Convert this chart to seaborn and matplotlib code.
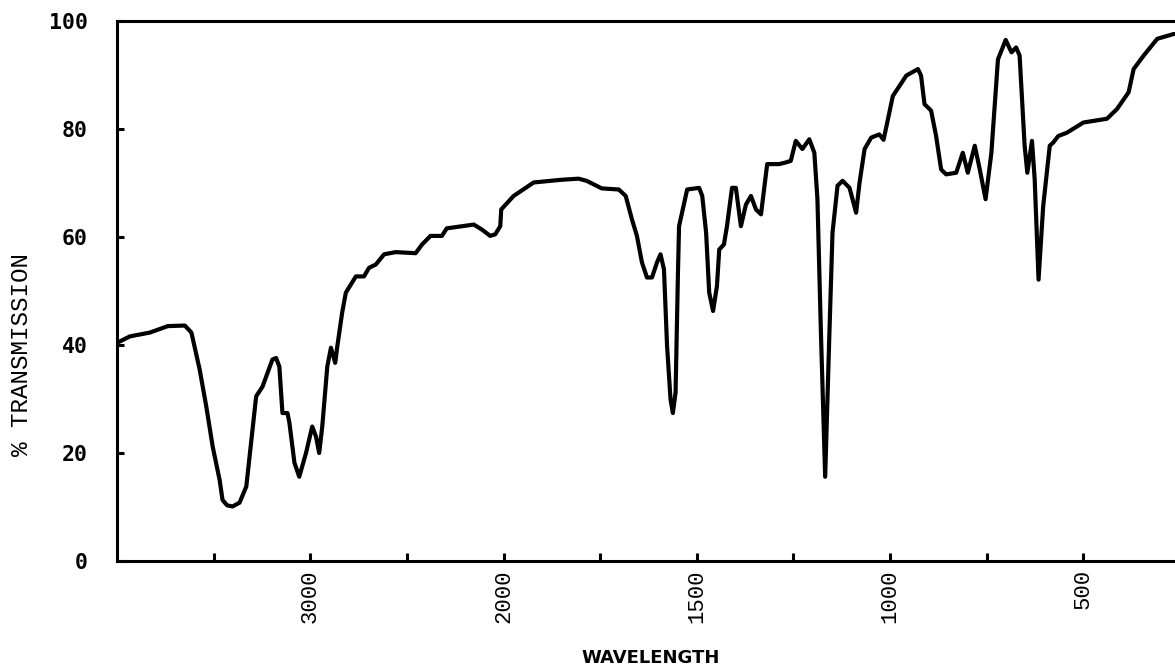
import numpy as np
import pandas as pd
import matplotlib
matplotlib.use("Agg")
import matplotlib.pyplot as plt
import seaborn as sns

# ---- data (wavenumber, % transmission) ----
wavenumber = [
    4000, 3933, 3830, 3737, 3649, 3615, 3572, 3538, 3505, 3469, 3454, 3430, 3402, 3366,
    3331, 3300, 3280, 3247, 3196, 3177, 3160, 3144, 3118, 3108, 3082, 3057, 3022,
    2990, 2970, 2954, 2938, 2912, 2893, 2871, 2860, 2835, 2816, 2764, 2722, 2696,
    2661, 2618, 2558, 2455, 2422, 2378, 2319, 2294, 2216, 2154, 2113, 2069, 2043,
    2017, 2012, 1974, 1922, 1850, 1806, 1785, 1746, 1702, 1684, 1668, 1655, 1642,
    1629, 1616, 1603, 1594, 1585, 1577, 1568, 1562, 1555, 1549, 1546, 1538, 1525,
    1494, 1486, 1476, 1468, 1458, 1448, 1442, 1430, 1422, 1409, 1399, 1386, 1373,
    1360, 1347, 1334, 1318, 1287, 1270, 1257, 1244, 1227, 1209, 1196, 1188, 1179,
    1168, 1157, 1149, 1136, 1123, 1105, 1088, 1079, 1066, 1049, 1028, 1017, 1008,
    993, 958, 928, 920, 911, 894, 881, 868, 855, 829, 812, 799, 781, 768, 753,
    738, 721, 701, 686, 674, 665, 652, 645, 633, 626, 616, 604, 587, 578, 565,
    543, 500, 439, 413, 383, 370, 344, 309, 266,
]
transmission = [
    40.4, 41.6, 42.3, 43.5, 43.6, 42.3, 35.4, 28.6, 21.2, 15.0, 11.3, 10.3, 10.1, 10.8,
    13.8, 24.0, 30.5, 32.3, 37.3, 37.6, 36.0, 27.4, 27.4, 25.6, 18.2, 15.6, 20.0,
    24.9, 23.0, 20.0, 24.9, 36.0, 39.5, 36.7, 39.8, 46.0, 49.7, 52.7, 52.7, 54.3,
    54.9, 56.8, 57.2, 57.0, 58.6, 60.2, 60.2, 61.6, 62.0, 62.3, 61.4, 60.2, 60.5,
    62.0, 65.1, 67.6, 70.1, 70.6, 70.8, 70.4, 69.0, 68.8, 67.6, 63.3, 60.2, 55.3,
    52.5, 52.5, 55.3, 56.8, 54.0, 39.8, 29.9, 27.4, 31.2, 52.8, 62.0, 64.6, 68.8,
    69.1, 67.6, 60.8, 49.7, 46.3, 50.9, 57.7, 58.6, 62.0, 69.1, 69.1, 62.0, 66.0,
    67.6, 65.1, 64.2, 73.5, 73.5, 73.8, 74.1, 77.8, 76.3, 78.1, 75.6, 67.0, 42.3,
    15.6, 42.3, 60.8, 69.5, 70.4, 69.1, 64.5, 70.1, 76.3, 78.4, 79.0, 78.0, 81.0,
    86.1, 89.9, 91.1, 89.9, 84.6, 83.4, 78.7, 72.5, 71.6, 71.9, 75.6, 71.9, 76.9,
    72.5, 67.0, 75.6, 92.9, 96.5, 94.2, 95.1, 93.6, 76.9, 71.9, 77.8, 70.7, 52.1,
    65.7, 76.9, 77.5, 78.7, 79.3, 81.2, 81.9, 83.7, 86.8, 91.1, 93.6, 96.7, 97.6,
]

x_ticks = [3500, 3000, 2500, 2000, 1750, 1500, 1250, 1000, 750, 500]
x_tick_labels = ["", "3000", "", "2000", "", "1500", "", "1000", "", "500"]
y_ticks = [0, 20, 40, 60, 80, 100]
y_tick_labels = ["0", "20", "40", "60", "80", "100"]

df = pd.DataFrame({"wavenumber": wavenumber, "transmission": transmission})

sns.set_theme(style="ticks")
plt.rcParams["font.family"] = ["DejaVu Sans"]


# spectrometer chart: scale changes at 2000 cm-1 (twice as expanded below 2000)
def fwd(w):
    w = np.asarray(w, dtype=float)
    return np.where(w >= 2000, w / 500.0, w / 250.0 - 4.0)


def inv(p):
    p = np.asarray(p, dtype=float)
    return np.where(p >= 4, p * 500.0, (p + 4.0) * 250.0)


fig = plt.figure(figsize=(11.75, 6.71), dpi=100)
ax = fig.add_axes([117 / 1175, 1 - 561 / 671, 1 - 117 / 1175, (561 - 21) / 671])
ax.set_xscale("function", functions=(fwd, inv))

sns.lineplot(data=df, x="wavenumber", y="transmission", sort=False,
             estimator=None, color="black", linewidth=3.0, ax=ax)
for ln in ax.lines:
    ln.set_solid_joinstyle("round")
    ln.set_solid_capstyle("round")

ax.set_xlim(4000, 263)
ax.set_ylim(0, 100)

ax.set_xticks(x_ticks)
ax.set_xticklabels(x_tick_labels, rotation=90, family="Liberation Mono",
                   fontsize=16, color="black")
ax.set_yticks(y_ticks)
ax.set_yticklabels(y_tick_labels, family="DejaVu Sans Mono", fontweight="bold",
                   fontsize=15.5, color="black")
ax.xaxis.set_minor_locator(matplotlib.ticker.NullLocator())
ax.yaxis.set_minor_locator(matplotlib.ticker.NullLocator())

ax.tick_params(axis="x", direction="in", length=6, width=2.2, pad=6, color="black")
ax.tick_params(axis="y", direction="in", length=5, width=2.2, pad=21, color="black")

for side in ("left", "top", "bottom"):
    ax.spines[side].set_visible(True)
    ax.spines[side].set_linewidth(2.2)
    ax.spines[side].set_color("black")
ax.spines["right"].set_visible(False)

ax.set_ylabel("% TRANSMISSION", family="Liberation Mono", fontsize=17.5,
              color="black")
ax.yaxis.label.set_va("center")
ax.yaxis.label.set_ha("center")
ax.yaxis.set_label_coords((22 - 117) / 1058, (561 - 354) / 540)

ax.set_xlabel("WAVELENGTH", family="DejaVu Sans", fontweight="bold",
              fontsize=13, color="black")
ax.xaxis.label.set_va("center")
ax.xaxis.set_label_coords((651 - 117) / 1058, (561 - 658) / 540)

ax.set_facecolor("white")
fig.patch.set_facecolor("white")
ax.grid(False)

fig.savefig("out.png", dpi=100, facecolor="white")
